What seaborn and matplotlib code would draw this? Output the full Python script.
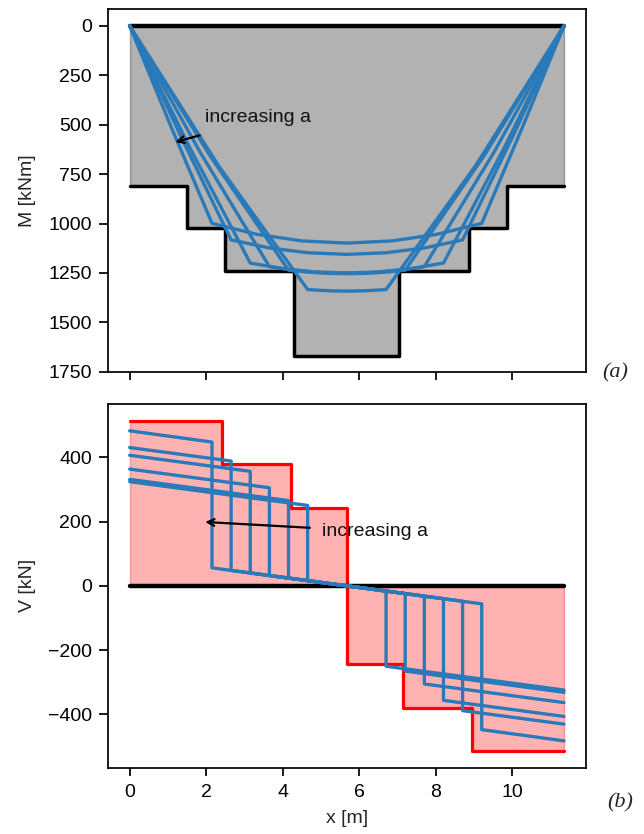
import numpy as np
import pandas as pd
import matplotlib
matplotlib.use("Agg")
import matplotlib.pyplot as plt
import seaborn as sns

# ---------------- data ----------------
L_span = 11.35

# moment envelope (step edges and levels, kNm)
M_env_x = [0.0, 1.5, 2.48, 4.3, 7.05, 8.87, 9.85, 11.35]
M_env_v = [810, 1025, 1242, 1670, 1242, 1025, 810]

# shear envelope (step edges and levels, kN)
V_env_x = [0.0, 2.4, 4.21, 5.675, 7.14, 8.95, 11.35]
V_env_v = [514, 379, 243, -243, -379, -514]

# moment diagrams for increasing a (x [m], M [kNm])
M_x1 = [0, 1.08, 2.15, 3.33, 4.5, 5.675, 6.85, 8.02, 9.2, 10.27, 11.35]
M_y1 = [0, 510, 999, 1055, 1088, 1099, 1088, 1055, 999, 510, 0]
M_x2 = [0, 1.33, 2.65, 3.66, 4.67, 5.675, 6.68, 7.69, 8.7, 10.02, 11.35]
M_y2 = [0, 556, 1083, 1124, 1148, 1156, 1148, 1124, 1083, 556, 0]
M_x3 = [0, 1.58, 3.15, 3.99, 4.83, 5.675, 6.52, 7.36, 8.2, 9.78, 11.35]
M_y3 = [0, 620, 1200, 1228, 1245, 1250, 1245, 1228, 1200, 620, 0]
M_x4 = [0, 1.83, 3.65, 4.33, 5.0, 5.675, 6.35, 7.03, 7.7, 9.53, 11.35]
M_y4 = [0, 636, 1218, 1237, 1248, 1251, 1248, 1237, 1218, 636, 0]
M_x5 = [0, 2.08, 4.15, 4.66, 5.17, 5.675, 6.18, 6.69, 7.2, 9.28, 11.35]
M_y5 = [0, 652, 1236, 1246, 1252, 1254, 1252, 1246, 1236, 652, 0]
M_x6 = [0, 2.33, 4.65, 4.99, 5.33, 5.675, 6.02, 6.36, 6.7, 9.03, 11.35]
M_y6 = [0, 710, 1334, 1338, 1341, 1342, 1341, 1338, 1334, 710, 0]

# shear diagrams: load position a, V at support, V just left of load, V just right of load
a_pos = [2.15, 2.65, 3.15, 3.65, 4.15, 4.65]
V_sup = [482, 430, 406, 363, 331, 324]
V_top = [447, 388, 356, 305, 265, 250]
V_bot = [56, 48, 40, 32, 24, 16]

# ---------------- style ----------------
sns.set_theme(style="ticks")
plt.rcParams["font.family"] = ["Liberation Sans", "DejaVu Sans"]
plt.rcParams["axes.edgecolor"] = "black"
plt.rcParams["axes.linewidth"] = 1.25
plt.rcParams["xtick.color"] = "black"
plt.rcParams["ytick.color"] = "black"
plt.rcParams["xtick.major.width"] = 1.25
plt.rcParams["ytick.major.width"] = 1.25
plt.rcParams["xtick.major.size"] = 5.5
plt.rcParams["ytick.major.size"] = 6.5
plt.rcParams["xtick.major.pad"] = 6
plt.rcParams["ytick.major.pad"] = 5

BLUE = "#2a7ab9"
FS = 14

fig = plt.figure(figsize=(6.44, 8.34), dpi=100)
ax1 = fig.add_axes([0.1677, 0.5534, 0.7418, 0.4354])
ax2 = fig.add_axes([0.1677, 0.0795, 0.7418, 0.4361], sharex=ax1)

# ---------------- top: moment ----------------
mx = np.array(M_env_x)
mv = np.array(M_env_v + [M_env_v[-1]])
ax1.fill_between(mx, 0, mv, step="post", color="black", alpha=0.3, lw=1, zorder=1)
ax1.step(mx, mv, where="post", color="black", lw=2.5, zorder=2)
ax1.plot([0, L_span], [0, 0], color="black", lw=3.2, zorder=2)

M_curves = [(M_x1, M_y1), (M_x2, M_y2), (M_x3, M_y3),
            (M_x4, M_y4), (M_x5, M_y5), (M_x6, M_y6)]
for xs, ys in M_curves:
    sns.lineplot(x=xs, y=ys, ax=ax1, color=BLUE, lw=2.4, sort=False,
                 estimator=None, zorder=3)

ax1.set_ylim(1753.5, -83.5)
ax1.set_yticks([0, 250, 500, 750, 1000, 1250, 1500, 1750])
ax1.set_ylabel("M [kNm]", fontsize=FS)
ax1.tick_params(axis="both", labelsize=FS)
ax1.tick_params(axis="x", labelbottom=False)
ax1.annotate("", xy=(1.12, 592), xytext=(1.9, 550),
             arrowprops=dict(arrowstyle="->", color="black", lw=1.6), zorder=5)
ax1.text(1.98, 465, "increasing a", fontsize=FS, va="center", ha="left",
         color="#111111", zorder=6)

# ---------------- bottom: shear ----------------
vx = np.array(V_env_x)
vv = np.array(V_env_v + [V_env_v[-1]])
ax2.fill_between(vx, 0, vv, step="post", color="red", alpha=0.3, lw=1, zorder=1)
ax2.step(vx, vv, where="post", color="red", lw=2.3, zorder=2)
ax2.plot([0, L_span], [0, 0], color="black", lw=3.2, zorder=2)

rows = []
for i, (a, v0, vt, vb) in enumerate(zip(a_pos, V_sup, V_top, V_bot)):
    xs = [0, a, a, L_span - a, L_span - a, L_span]
    ys = [v0, vt, vb, -vb, -vt, -v0]
    for order, (xx, yy) in enumerate(zip(xs, ys)):
        rows.append({"curve": i, "order": order, "x": xx, "V": yy})
df_v = pd.DataFrame(rows)
for i, g in df_v.groupby("curve"):
    sns.lineplot(data=g, x="x", y="V", ax=ax2, color=BLUE, lw=2.4, sort=False,
                 estimator=None, zorder=3)

ax2.set_ylim(-565.4, 565.4)
ax2.set_yticks([-400, -200, 0, 200, 400])
ax2.set_xticks([0, 2, 4, 6, 8, 10])
ax2.set_xlim(-0.5675, 11.9175)
ax2.set_ylabel("V [kN]", fontsize=FS)
ax2.set_xlabel("x [m]", fontsize=FS, labelpad=7)
ax2.tick_params(axis="both", labelsize=FS)
ax2.annotate("", xy=(1.9, 199), xytext=(4.78, 180),
             arrowprops=dict(arrowstyle="->", color="black", lw=1.6), zorder=5)
ax2.text(5.02, 168, "increasing a", fontsize=FS, va="center", ha="left",
         color="#111111", zorder=6)

for ax in (ax1, ax2):
    for s in ax.spines.values():
        s.set_visible(True)
        s.set_color("black")

ax1.yaxis.set_label_coords(-0.15, 0.5)
ax2.yaxis.set_label_coords(-0.15, 0.5)

fig.text(615 / 644, 1 - 373 / 834, "(a)", fontsize=16, style="italic",
         family=["Liberation Serif", "DejaVu Serif"], ha="center", va="center")
fig.text(620 / 644, 1 - 803 / 834, "(b)", fontsize=16, style="italic",
         family=["Liberation Serif", "DejaVu Serif"], ha="center", va="center")

fig.savefig("out.png", dpi=100)
